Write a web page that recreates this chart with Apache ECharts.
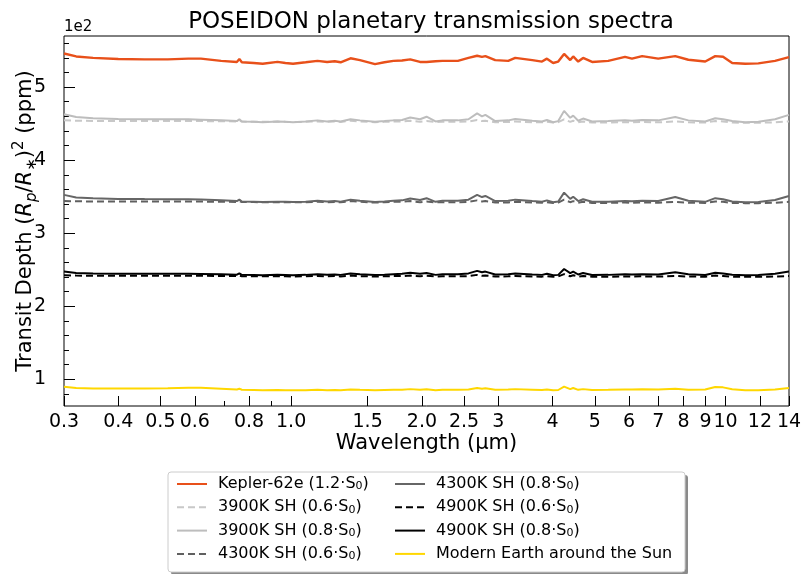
<!DOCTYPE html>
<html><head><meta charset="utf-8">
<script src="https://cdn.jsdelivr.net/npm/echarts@6/dist/echarts.min.js"></script>
<style>html,body{margin:0;padding:0;background:#fff}#c{width:811px;height:574px}</style>
</head><body><div id="c"></div>
<script>
const wavelengths = [0.30,0.32,0.35,0.40,0.46,0.52,0.58,0.62,0.69,0.75,0.76,0.77,0.82,0.86,0.93,0.97,1.01,1.08,1.15,1.21,1.26,1.30,1.37,1.44,1.56,1.64,1.72,1.80,1.88,1.98,2.05,2.15,2.23,2.42,2.56,2.68,2.75,2.80,2.95,3.16,3.28,3.59,3.78,3.88,4.01,4.12,4.25,4.39,4.46,4.58,4.70,4.93,5.37,5.87,6.09,6.43,7.00,7.66,8.21,8.98,9.47,9.87,10.36,11.1,11.9,13.0,14.0];

const kepler62e = [5.46,5.42,5.40,5.385,5.38,5.38,5.39,5.39,5.36,5.345,5.385,5.34,5.33,5.32,5.345,5.33,5.32,5.34,5.36,5.345,5.355,5.34,5.395,5.37,5.315,5.34,5.36,5.365,5.38,5.345,5.345,5.355,5.36,5.36,5.40,5.43,5.415,5.425,5.37,5.36,5.40,5.37,5.35,5.39,5.33,5.35,5.455,5.37,5.42,5.35,5.40,5.345,5.36,5.415,5.39,5.425,5.39,5.425,5.375,5.35,5.425,5.415,5.33,5.32,5.325,5.36,5.41];

const sh3900_06 = [4.545,4.54,4.537,4.535,4.535,4.535,4.535,4.535,4.533,4.53,4.54,4.528,4.527,4.525,4.528,4.525,4.523,4.525,4.53,4.525,4.528,4.523,4.54,4.53,4.52,4.525,4.53,4.53,4.54,4.525,4.535,4.522,4.525,4.525,4.53,4.55,4.535,4.54,4.52,4.522,4.53,4.52,4.518,4.525,4.515,4.52,4.56,4.525,4.54,4.518,4.53,4.515,4.515,4.52,4.518,4.522,4.518,4.53,4.518,4.515,4.535,4.53,4.515,4.512,4.512,4.518,4.53];

const sh3900_08 = [4.63,4.59,4.575,4.565,4.56,4.56,4.56,4.555,4.545,4.535,4.56,4.53,4.525,4.52,4.53,4.525,4.52,4.53,4.545,4.53,4.54,4.53,4.56,4.545,4.525,4.535,4.545,4.55,4.585,4.56,4.595,4.53,4.545,4.545,4.56,4.64,4.60,4.62,4.535,4.545,4.565,4.54,4.53,4.55,4.52,4.535,4.675,4.58,4.61,4.54,4.57,4.53,4.535,4.545,4.54,4.55,4.545,4.59,4.545,4.53,4.575,4.56,4.535,4.52,4.525,4.56,4.62];

const sh4300_06 = [3.44,3.437,3.435,3.433,3.433,3.433,3.433,3.433,3.431,3.428,3.438,3.427,3.426,3.424,3.426,3.424,3.423,3.425,3.43,3.425,3.428,3.423,3.44,3.43,3.42,3.425,3.43,3.43,3.44,3.425,3.435,3.422,3.425,3.425,3.43,3.45,3.435,3.44,3.42,3.422,3.43,3.42,3.418,3.425,3.415,3.42,3.46,3.425,3.44,3.418,3.43,3.415,3.415,3.42,3.418,3.422,3.418,3.43,3.418,3.415,3.435,3.43,3.415,3.412,3.412,3.418,3.43];

const sh4300_08 = [3.525,3.49,3.478,3.47,3.467,3.466,3.466,3.462,3.45,3.44,3.46,3.435,3.432,3.428,3.432,3.43,3.428,3.432,3.445,3.435,3.44,3.432,3.46,3.445,3.428,3.435,3.445,3.45,3.475,3.455,3.48,3.43,3.445,3.445,3.46,3.525,3.495,3.51,3.44,3.445,3.46,3.44,3.432,3.45,3.425,3.435,3.556,3.47,3.50,3.44,3.465,3.43,3.432,3.44,3.437,3.445,3.44,3.495,3.445,3.43,3.48,3.465,3.435,3.425,3.427,3.455,3.51];

const sh4900_06 = [2.425,2.42,2.418,2.417,2.417,2.417,2.417,2.417,2.415,2.413,2.42,2.412,2.411,2.41,2.412,2.41,2.409,2.41,2.415,2.41,2.413,2.409,2.42,2.413,2.408,2.41,2.413,2.413,2.42,2.41,2.418,2.408,2.41,2.41,2.413,2.43,2.418,2.422,2.408,2.41,2.415,2.408,2.406,2.412,2.405,2.408,2.44,2.412,2.425,2.407,2.415,2.405,2.405,2.408,2.407,2.41,2.407,2.415,2.407,2.405,2.42,2.415,2.405,2.403,2.403,2.407,2.415];

const sh4900_08 = [2.475,2.455,2.45,2.447,2.445,2.445,2.445,2.443,2.438,2.432,2.45,2.43,2.428,2.425,2.43,2.428,2.426,2.43,2.44,2.432,2.436,2.43,2.45,2.44,2.428,2.433,2.44,2.445,2.46,2.445,2.455,2.43,2.44,2.44,2.45,2.485,2.465,2.475,2.435,2.44,2.45,2.435,2.43,2.445,2.425,2.43,2.51,2.455,2.475,2.435,2.455,2.428,2.43,2.438,2.435,2.44,2.436,2.465,2.44,2.428,2.46,2.45,2.432,2.425,2.427,2.445,2.475];

const modernEarth = [0.90,0.88,0.875,0.873,0.874,0.878,0.884,0.884,0.872,0.862,0.872,0.858,0.855,0.852,0.855,0.852,0.85,0.852,0.857,0.852,0.855,0.852,0.862,0.856,0.85,0.853,0.856,0.858,0.866,0.857,0.864,0.852,0.856,0.856,0.862,0.882,0.872,0.878,0.858,0.862,0.866,0.858,0.853,0.86,0.85,0.854,0.90,0.865,0.882,0.856,0.866,0.853,0.856,0.862,0.86,0.864,0.86,0.87,0.858,0.86,0.895,0.89,0.865,0.852,0.852,0.862,0.882];

const seriesNames = ['Kepler-62e (1.2·S₀)','3900K SH (0.6·S₀)','3900K SH (0.8·S₀)','4300K SH (0.6·S₀)','4300K SH (0.8·S₀)','4900K SH (0.6·S₀)','4900K SH (0.8·S₀)','Modern Earth around the Sun'];
const seriesColors = ['#e8501a','#c8c8c8','#bdbdbd','#606060','#666666','#000000','#000000','#ffd700'];
const seriesDashed = [false,true,false,true,false,true,false,false];
const seriesValues = [kepler62e,sh3900_06,sh3900_08,sh4300_06,sh4300_08,sh4900_06,sh4900_08,modernEarth];

const xTickValues = [0.3,0.4,0.5,0.6,0.8,1.0,1.5,2.0,2.5,3,4,5,6,7,8,9,10,12,14];
const xTickLabels = ['0.3','0.4','0.5','0.6','0.8','1.0','1.5','2.0','2.5','3','4','5','6','7','8','9','10','12','14'];
const xMinorTicks = [0.7,0.9];
const yTickValues = [1,2,3,4,5];
const yMinorTicks = [0.8,1.2,1.4,1.6,1.8,2.2,2.4,2.6,2.8,3.2,3.4,3.6,3.8,4.2,4.4,4.6,4.8,5.2,5.4,5.6];

const FONT = 'DejaVu Sans';
const chart = echarts.init(document.getElementById('c'), null, {renderer:'canvas'});

function xLabel(v){
  let best = 0, bd = Infinity;
  for (let i=0;i<xTickValues.length;i++){ const d=Math.abs(Math.log(v)-Math.log(xTickValues[i])); if(d<bd){bd=d;best=i;} }
  return xTickLabels[best];
}

const series = seriesNames.map((n,i)=>({
  name:n, type:'line', xAxisIndex:0, yAxisIndex:0,
  data: wavelengths.map((w,j)=>[w, seriesValues[i][j]]),
  showSymbol:false, symbol:'none', smooth:false, silent:true,
  lineStyle:{color:seriesColors[i], width: i===0?2.4:2, type: seriesDashed[i]?[7,4]:'solid'},
  itemStyle:{color:seriesColors[i]},
  z: 2+i
}));

const legendText = {
  fontFamily:FONT, fontSize:16, color:'#000', padding:[0,0,0,6],
  rich:{ a:{fontFamily:FONT,fontSize:16,color:'#000',lineHeight:16}, s:{fontFamily:FONT,fontSize:11,color:'#000',verticalAlign:'bottom',lineHeight:16} }
};
function legendFmt(name){
  const k = name.indexOf('₀');
  if (k<0) return '{a|'+name+'}';
  return '{a|'+name.slice(0,k)+'}{s|0}{a|'+name.slice(k+1)+'}';
}
const legendCommon = {orient:'vertical', itemWidth:30, itemHeight:14, itemGap:7.3, height:120, padding:0,
  selectedMode:false, formatter:legendFmt, textStyle:legendText, itemStyle:{opacity:0}, z:10};

chart.setOption({
  animation:false,
  backgroundColor:'#fff',
  title:{text:'POSEIDON planetary transmission spectra', left:426, top:6, textAlign:'center',
    textStyle:{fontFamily:FONT,fontSize:23,fontWeight:'normal',color:'#000'}},
  grid:{left:64,right:22,top:36,bottom:168,show:true,borderColor:'#000',borderWidth:1,backgroundColor:'transparent',outerBoundsMode:'none',containLabel:false},
  xAxis:[
    {type:'log', logBase:10, min:0.3, max:14, position:'bottom',
     axisLine:{show:false},
     axisTick:{show:true, inside:true, length:10, customValues:xTickValues, lineStyle:{color:'#000',width:1}},
     axisLabel:{show:true, customValues:xTickValues, formatter:xLabel, fontFamily:FONT, fontSize:19, color:'#000', margin:7, hideOverlap:false},
     splitLine:{show:false}, minorTick:{show:false},
     name:'Wavelength (µm)', nameLocation:'middle', nameGap:27, nameMoveOverlap:false,
     nameTextStyle:{fontFamily:FONT,fontSize:21,color:'#000',verticalAlign:'top'}},
    {type:'log', logBase:10, min:0.3, max:14, position:'bottom',
     axisLine:{show:false},
     axisTick:{show:true, inside:true, length:5, customValues:xMinorTicks, lineStyle:{color:'#000',width:1}},
     axisLabel:{show:false}, splitLine:{show:false}}
  ],
  yAxis:[
    {type:'value', min:0.635, max:5.70, position:'left',
     axisLine:{show:false},
     axisTick:{show:true, inside:true, length:11, customValues:yTickValues, lineStyle:{color:'#000',width:1}},
     axisLabel:{show:true, customValues:yTickValues, fontFamily:FONT, fontSize:19, color:'#000', margin:18},
     splitLine:{show:false},
     name:'{n|Transit Depth (}{i|R}{sb|p}{n|/}{i|R}{sb|∗}{n|)}{sp|2}{n| (ppm)}',
     nameLocation:'middle', nameGap:24, nameRotate:90, nameMoveOverlap:false,
     nameTextStyle:{fontFamily:FONT,fontSize:21,color:'#000',verticalAlign:'bottom',
       rich:{
         n:{fontFamily:FONT,fontSize:21,color:'#000',lineHeight:28},
         i:{fontFamily:FONT,fontSize:21,fontStyle:'italic',color:'#000',lineHeight:28},
         sb:{fontFamily:FONT,fontSize:15,fontStyle:'italic',color:'#000',verticalAlign:'bottom',lineHeight:28},
         sp:{fontFamily:FONT,fontSize:15,color:'#000',verticalAlign:'top',lineHeight:28}
       }}},
    {type:'value', min:0.635, max:5.70, position:'left',
     axisLine:{show:false},
     axisTick:{show:true, inside:true, length:5, customValues:yMinorTicks, lineStyle:{color:'#000',width:1}},
     axisLabel:{show:false}, splitLine:{show:false}}
  ],
  legend:[
    Object.assign({data:seriesNames.slice(0,4), left:176, top:476}, legendCommon),
    Object.assign({data:seriesNames.slice(4,8), left:394, top:476}, legendCommon)
  ],
  graphic:[
    {type:'rect', z:1, shape:{x:171,y:475,width:517,height:100,r:3}, style:{fill:'#8a8a8a'}},
    {type:'rect', z:2, shape:{x:168,y:472,width:517,height:100,r:3}, style:{fill:'#fff',stroke:'#cccccc',lineWidth:1}},
    {type:'text', z:3, x:64, y:27, style:{text:'1e2', fontFamily:FONT, fontSize:15, fill:'#000', verticalAlign:'middle', align:'left'}}
  ],
  series: series
});
</script></body></html>
